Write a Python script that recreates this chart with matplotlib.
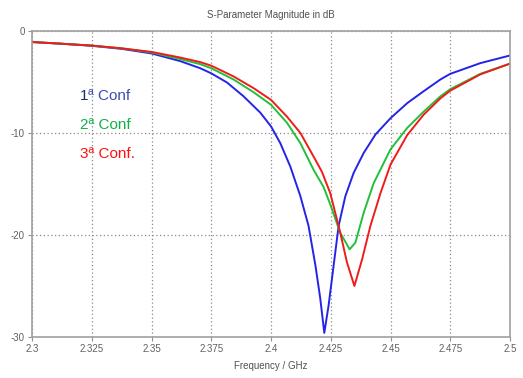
import numpy as np
import matplotlib.pyplot as plt

# ================= Data ================= #
# 1ª Conf (blue)
freq_1 = [2.300, 2.3125, 2.325, 2.3375, 2.350, 2.362, 2.3704, 2.375, 2.3816, 2.3885,
          2.3955, 2.400, 2.4039, 2.4081, 2.4123, 2.4157, 2.4186, 2.4206, 2.4223,
          2.4241, 2.4262, 2.4283, 2.4311, 2.4346, 2.4388, 2.4437, 2.450, 2.457,
          2.4639, 2.4709, 2.475, 2.4876, 2.500]
s11_1 = [-1.08, -1.25, -1.45, -1.75, -2.2, -2.95, -3.65, -4.15, -5.05, -6.4,
         -8.0, -9.35, -11.0, -13.3, -16.2, -19.1, -23.0, -26.2, -29.6,
         -26.9, -23.0, -19.1, -16.2, -13.9, -11.95, -10.15, -8.55, -7.07,
         -5.9, -4.75, -4.2, -3.15, -2.4]

# 2ª Conf (green)
freq_2 = [2.300, 2.3125, 2.325, 2.3375, 2.350, 2.362, 2.3704, 2.375, 2.3843, 2.3927,
          2.400, 2.4067, 2.4123, 2.4178, 2.4220, 2.4248, 2.4290, 2.4329, 2.4353,
          2.4388, 2.4430, 2.4500, 2.4570, 2.4639, 2.4709, 2.4750, 2.4876, 2.500]
s11_2 = [-1.08, -1.25, -1.43, -1.7, -2.1, -2.75, -3.25, -3.65, -4.75, -6.0,
         -7.23, -9.0, -11.0, -13.6, -15.3, -17.0, -19.8, -21.4, -20.75,
         -17.8, -14.9, -11.6, -9.5, -7.9, -6.4, -5.7, -4.2, -3.2]

# 3ª Conf. (red)
freq_3 = [2.300, 2.3125, 2.325, 2.3375, 2.350, 2.362, 2.3704, 2.375, 2.3843, 2.3927,
          2.400, 2.4067, 2.4123, 2.4178, 2.4213, 2.4248, 2.4290, 2.4318, 2.4349,
          2.4381, 2.4416, 2.4458, 2.4500, 2.4570, 2.4639, 2.4709, 2.4750, 2.4876, 2.500]
s11_3 = [-1.08, -1.25, -1.43, -1.7, -2.05, -2.6, -3.05, -3.4, -4.45, -5.6,
         -6.75, -8.4, -10.0, -12.3, -13.8, -15.9, -19.8, -22.7, -25.0,
         -22.4, -19.1, -15.9, -13.1, -10.2, -8.2, -6.6, -5.85, -4.25, -3.2]

xticks = [2.3, 2.325, 2.35, 2.375, 2.4, 2.425, 2.45, 2.475, 2.5]
xtick_labels = ['2.3', '2.325', '2.35', '2.375', '2.4', '2.425', '2.45', '2.475', '2.5']
yticks = [0, -10, -20, -30]
ytick_labels = ['0', '-10', '-20', '-30']

# ================= Plot ================= #
plt.rcParams['font.family'] = ['Liberation Sans', 'DejaVu Sans']

fig = plt.figure(figsize=(5.23, 3.78), dpi=100)
ax = fig.add_axes([32 / 523, 1 - 337 / 378, 478 / 523, 306 / 378])

ax.plot(freq_1, s11_1, color='#2424e8', lw=1.4)
ax.plot(freq_2, s11_2, color='#22c03a', lw=1.4)
ax.plot(freq_3, s11_3, color='#f01c1c', lw=1.4)

ax.set_xlim(2.3, 2.5)
ax.set_ylim(-30, 0)
ax.set_xticks(xticks)
ax.set_xticklabels(xtick_labels)
ax.set_yticks(yticks)
ax.set_yticklabels(ytick_labels)

ax.grid(True, color='#8a8a8a', linestyle=(0, (1, 2)), linewidth=0.9)
for s in ax.spines.values():
    s.set_color('#a0a0a0')
    s.set_linewidth(1.2)
ax.tick_params(axis='both', direction='out', length=3, width=0.8, color='#909090',
               labelsize=7, labelcolor='#606060', pad=2)

ax.set_title('S-Parameter Magnitude in dB', fontsize=7, color='#505050', pad=9)
ax.set_xlabel('Frequency / GHz', fontsize=7, color='#505050', labelpad=5)

# Configuration labels
ax.text(0.10, 0.788, '1', transform=ax.transAxes, color='#1c2a78', fontsize=11, va='center')
ax.text(0.1175, 0.788, 'ª Conf', transform=ax.transAxes, color='#3a4cb4', fontsize=11, va='center')
ax.text(0.10, 0.693, '2ª Conf', transform=ax.transAxes, color='#10b04a', fontsize=11, va='center')
ax.text(0.10, 0.597, '3ª Conf.', transform=ax.transAxes, color='#ff1010', fontsize=11, va='center')

fig.savefig('out.png', dpi=100)
